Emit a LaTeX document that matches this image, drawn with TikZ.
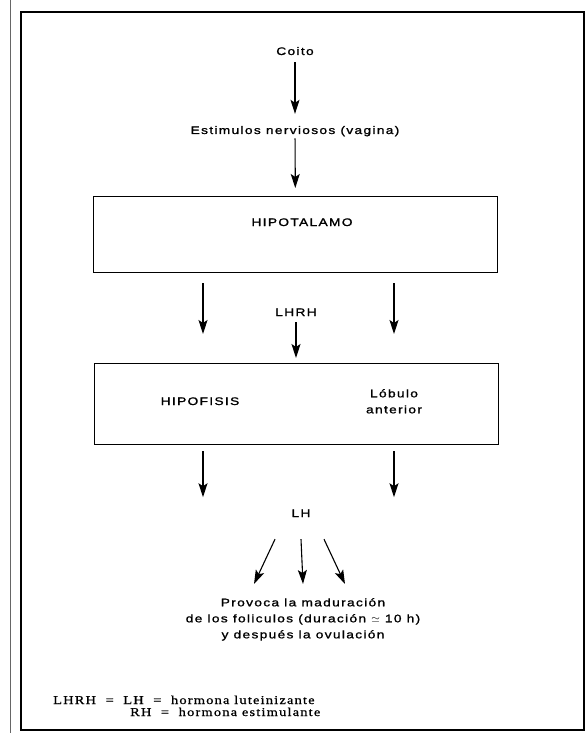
\documentclass[tikz,border=0pt]{standalone}
\usepackage{fontspec}
\newfontfamily\labelfont[FakeStretch=1.25,LetterSpace=12,FakeBold=1.2]{Liberation Sans}
\newfontfamily\notefont[FakeStretch=1.2,LetterSpace=10,FakeBold=0.8]{Liberation Serif}
\usepackage{tikz}
\usetikzlibrary{arrows.meta,calc,positioning}

\begin{document}
\begin{tikzpicture}[x=1pt,y=-1pt,
  lbl/.style={font=\labelfont\fontsize{11}{16}\selectfont, inner sep=0pt, align=center},
  note/.style={font=\notefont\fontsize{12}{13}\selectfont, inner sep=0pt, anchor=base west},
  organ/.style={draw, line width=1.1pt, minimum width=404pt, fill=white},
  arr/.style={-{Stealth[length=14pt,width=9pt,inset=3pt]}, line width=1.1pt}]

\useasboundingbox (0,0) rectangle (587,733);
\draw[line width=1.1pt] (21,12) rectangle (584,730);
\draw[black!60, line width=1pt] (10,0) -- (10,733);

\node[lbl, anchor=base] (coito) at (295,55) {Coito};
\node[lbl, anchor=base] (estim) at (295,134) {Estimulos nerviosos (vagina)};

\coordinate(O1) at (93,196);
\node[below right=0cm of O1, organ, minimum height=76pt](hipot) {};
\node[lbl, anchor=base] (hipottext) at (302,226) {HIPOTALAMO};

\node[lbl, anchor=base] (lhrh) at (296,316) {LHRH};

\coordinate(O1) at (94,363);
\node[below right=0cm of O1, organ, minimum height=81pt](hipof) {};
\node[lbl, anchor=base] (hipoftext) at (200,405) {HIPOFISIS};
\node[lbl, anchor=north] (lobulo) at (394,389) {Lóbulo\\anterior};

\node[lbl, anchor=base] (lh) at (301,517) {LH};
\node[lbl, anchor=north] (provoca) at (303,598) {Provoca la maduración\\de los foliculos (duración $\simeq$ 10 h)\\y después la ovulación};

\node[note] (fn1) at (53,704) {LHRH\ \ =\ \ LH\ \ =\ \ hormona luteinizante};
\node[note] (fn2) at (130,716) {RH\ \ =\ \ hormona estimulante};

\coordinate (colL) at (203,0);
\coordinate (colR) at (394,0);

\draw[arr, shorten <=7pt, shorten >=12pt] (coito) -- (estim);
\draw[arr, shorten <=2pt, shorten >=8pt] (estim) -- (hipot);
\draw[arr, shorten <=10pt, shorten >=29pt] (hipot.south -| colL) -- (hipof.north -| colL);
\draw[arr, shorten <=10pt, shorten >=29pt] (hipot.south -| colR) -- (hipof.north -| colR);
\draw[arr, shorten <=6pt, shorten >=5pt] (lhrh) -- (hipof.north -| lhrh);
\draw[arr, shorten <=6pt, shorten >=16pt] (hipof.south -| colL) -- (lh -| colL);
\draw[arr, shorten <=6pt, shorten >=16pt] (hipof.south -| colR) -- (lh -| colR);
\draw[arr] ($(lh.south)+(-26,22)$) -- ($(provoca.north)+(-49,-14)$);
\draw[arr] ($(lh.south)+(0,22)$) -- ($(provoca.north)+(0,-14)$);
\draw[arr] ($(lh.south)+(23,22)$) -- ($(provoca.north)+(42,-14)$);
\end{tikzpicture}
\end{document}
